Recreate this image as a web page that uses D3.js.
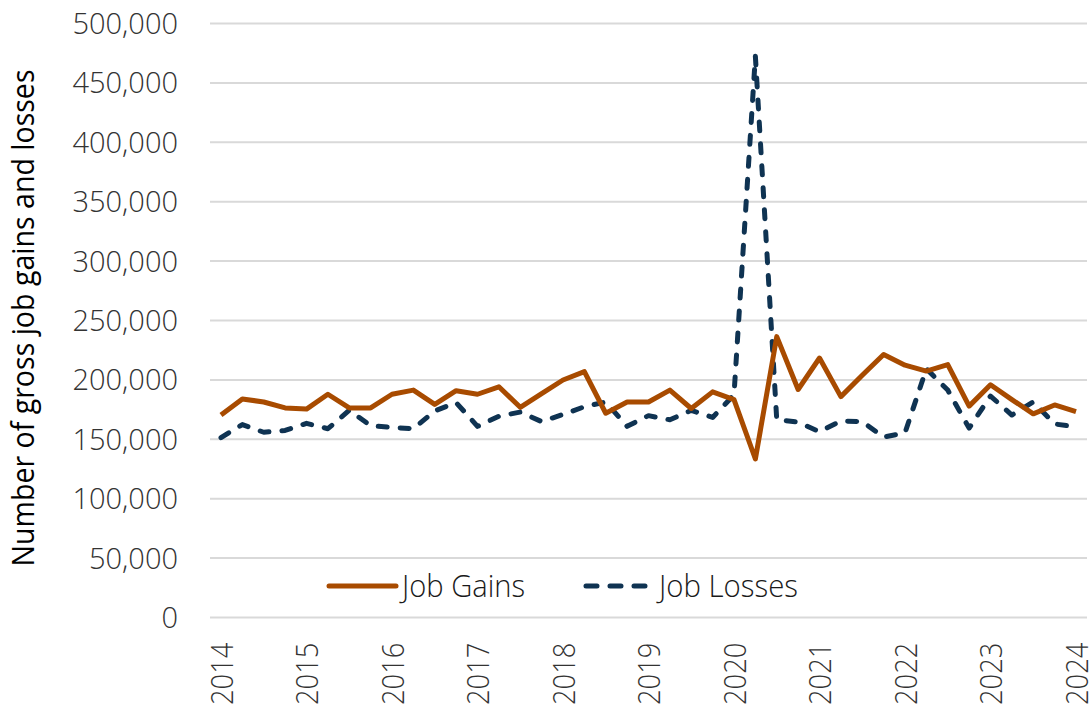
<!DOCTYPE html>
<html>
<head>
<meta charset="utf-8">
<script src="https://cdn.jsdelivr.net/npm/d3@7"></script>
<style>
  body { margin: 0; background: #fff; }
  svg { display: block; }
  .tick text { font-family: "Open Sans", sans-serif; font-weight: 300; fill: #333; }
</style>
</head>
<body>
<div id="chart"></div>
<script>
var svgWidth = 1091;
var svgHeight = 708;

// Quarterly observations, 2014 Q1 - 2024 Q1
var years = ["2014","2015","2016","2017","2018","2019","2020","2021","2022","2023","2024"];
var quarters = [];
years.forEach(function(y) {
  ["Q1","Q2","Q3","Q4"].forEach(function(q) {
    if (y !== "2024" || q === "Q1") quarters.push(y + " " + q);
  });
});

var jobGains = [170000,183500,181000,176000,175000,187500,176000,176000,187500,191000,
  179000,190500,187500,193800,176500,188000,199500,206500,171500,181000,
  181000,191000,175500,189500,183000,133000,236000,191500,218000,185500,
  203500,221000,212000,207000,212500,177500,195500,183000,171000,178500,172800];

var jobLosses = [151000,162000,155500,157000,163000,158500,174000,161000,159500,158500,
  173500,180500,160500,169000,172500,164500,170500,177000,181000,160500,
  169500,166000,174000,168000,187000,472000,166000,164000,156000,165000,
  164500,151500,155000,209000,191000,159000,186000,170000,181000,162500,160000];

var yTicks = [0,50000,100000,150000,200000,250000,300000,350000,400000,450000,500000];

var gainsColor = "#a84b00";
var lossesColor = "#0f3352";

var svg = d3.select("#chart")
  .append("svg")
  .attr("width", svgWidth)
  .attr("height", svgHeight);

var x = d3.scalePoint()
  .domain(quarters)
  .range([221, 1076]);

var y = d3.scaleLinear()
  .domain([0, 500000])
  .range([617, 23]);

// y axis with gridlines
var gridLeft = 210, gridRight = 1087;
var yAxis = svg.append("g")
  .attr("transform", `translate(${gridLeft},0)`)
  .call(d3.axisLeft(y)
    .tickValues(yTicks)
    .tickSize(-(gridRight - gridLeft))
    .tickPadding(32)
    .tickFormat(d3.format(",")));
yAxis.select(".domain").remove();
yAxis.selectAll(".tick line")
  .attr("stroke", "#d9d9d9")
  .attr("stroke-width", 2);
yAxis.selectAll(".tick text")
  .attr("font-size", "29px")
  .attr("dy", "0.36em");

// x axis, year labels at Q1
var xAxis = svg.append("g")
  .attr("transform", "translate(0,617)")
  .call(d3.axisBottom(x)
    .tickValues(quarters.filter(function(q) { return q.endsWith("Q1"); }))
    .tickSize(0)
    .tickFormat(function(q) { return q.slice(0, 4); }));
xAxis.select(".domain").remove();
xAxis.selectAll(".tick text")
  .attr("font-size", "31px")
  .attr("y", 0)
  .attr("dy", "0.36em")
  .attr("text-anchor", "start")
  .attr("transform", "translate(0,88) rotate(-90) scale(0.88,1)");

// lines
var line = function(values) {
  return d3.line()
    .x(function(d, i) { return x(quarters[i]); })
    .y(function(d) { return y(d); })(values);
};

svg.append("path")
  .attr("d", line(jobLosses))
  .attr("fill", "none")
  .attr("stroke", lossesColor)
  .attr("stroke-width", 5)
  .attr("stroke-linecap", "round")
  .attr("stroke-linejoin", "round")
  .attr("stroke-dasharray", "9,13");

svg.append("path")
  .attr("d", line(jobGains))
  .attr("fill", "none")
  .attr("stroke", gainsColor)
  .attr("stroke-width", 5)
  .attr("stroke-linejoin", "round");

// y axis title
svg.append("text")
  .attr("transform", "translate(34,318) rotate(-90)")
  .attr("text-anchor", "middle")
  .attr("font-family", "Open Sans, sans-serif")
  .attr("font-size", "31px")
  .attr("fill", "#000")
  .attr("textLength", 497)
  .attr("lengthAdjust", "spacingAndGlyphs")
  .text("Number of gross job gains and losses");

// legend
var legend = svg.append("g").attr("transform", "translate(0,586)");
var legendItems = [
  {label: "Job Gains", color: gainsColor, dash: null, x0: 329, len: 123},
  {label: "Job Losses", color: lossesColor, dash: "11,13", x0: 586, len: 139}
];
legendItems.forEach(function(d) {
  legend.append("line")
    .attr("x1", d.x0).attr("x2", d.x0 + 67)
    .attr("y1", 0).attr("y2", 0)
    .attr("stroke", d.color)
    .attr("stroke-width", 5)
    .attr("stroke-linecap", "round")
    .attr("stroke-dasharray", d.dash);
  legend.append("text")
    .attr("x", d.x0 + 73)
    .attr("y", 11)
    .attr("font-family", "Open Sans, sans-serif")
    .attr("font-weight", 300)
    .attr("font-size", "31px")
    .attr("fill", "#1a1a1a")
    .attr("textLength", d.len)
    .attr("lengthAdjust", "spacingAndGlyphs")
    .text(d.label);
});
</script>
</body>
</html>
